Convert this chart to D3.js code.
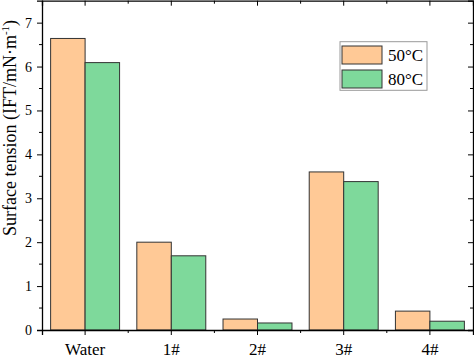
<!DOCTYPE html>
<html><head><meta charset="utf-8">
<script src="https://cdn.jsdelivr.net/npm/d3@7"></script>
<style>body{margin:0;background:#fff}svg{display:block}text{font-family:"Liberation Serif","Times New Roman",serif}</style>
</head><body><svg id="c" width="474" height="359"></svg>
<script>
const categories = ["Water","1#","2#","3#","4#"];
const seriesNames = ["50°C","80°C"];
const values50 = [6.64, 2.0, 0.25, 3.6, 0.43];
const values80 = [6.09, 1.69, 0.16, 3.38, 0.2];
const yTicks = [0,1,2,3,4,5,6,7];
const colors = ["#FFC996","#7ED99B"];

const svg = d3.select("#c");
const L = 42, R = 473, T = 0.7, B = 330;
const x = d3.scaleBand().domain(categories).range([L, R]).paddingInner(0.2).paddingOuter(0.1);
const xs = d3.scaleBand().domain(seriesNames).range([0, x.bandwidth()]);
const y = d3.scaleLinear().domain([0, 7.5]).range([B, T]);
const data = [values50, values80];

// bars
categories.forEach((c, i) => {
  seriesNames.forEach((s, j) => {
    svg.append("rect")
      .attr("x", x(c) + xs(s)).attr("y", y(data[j][i]))
      .attr("width", xs.bandwidth()).attr("height", y(0) - y(data[j][i]))
      .attr("fill", colors[j]).attr("stroke", "#333").attr("stroke-width", 1);
  });
});

const minorY = d3.range(0.5, 7.5, 1);
const bounds = categories.slice(1).map(c => x(c) - x.step() * x.paddingInner() / 2);

// left axis
const gl = svg.append("g").attr("transform", `translate(${L},0)`)
  .call(d3.axisLeft(y).tickValues(yTicks).tickFormat(d3.format("d")).tickSize(5).tickPadding(5));
gl.selectAll("text").attr("font-size", 14).attr("fill", "#000");
gl.selectAll(".m").data(minorY).enter().append("line")
  .attr("x1", -3).attr("x2", 0).attr("y1", d => y(d)).attr("y2", d => y(d)).attr("stroke", "#000");
// right axis ticks inward
const gr = svg.append("g").attr("transform", `translate(${R},0)`)
  .call(d3.axisRight(y).tickValues(yTicks).tickSize(-5).tickFormat(""));
gr.selectAll(".m").data(minorY).enter().append("line")
  .attr("x1", -3).attr("x2", 0).attr("y1", d => y(d)).attr("y2", d => y(d)).attr("stroke", "#000");
// bottom axis
const gb = svg.append("g").attr("transform", `translate(0,${B})`)
  .call(d3.axisBottom(x).tickSize(5).tickPadding(8));
gb.selectAll("text").attr("font-size", 17).attr("fill", "#000");
gb.selectAll(".m").data(bounds).enter().append("line")
  .attr("x1", d => d).attr("x2", d => d).attr("y1", 0).attr("y2", 3).attr("stroke", "#000");
// top axis ticks inward
const gt = svg.append("g").attr("transform", `translate(0,${T})`)
  .call(d3.axisTop(x).tickSize(-5).tickFormat(""));
gt.selectAll(".m").data(bounds).enter().append("line")
  .attr("x1", d => d).attr("x2", d => d).attr("y1", 0).attr("y2", 3).attr("stroke", "#000");
[gl, gr, gb, gt].forEach(g => {
  g.select(".domain").attr("stroke", "#000").attr("stroke-width", 1.3);
  g.selectAll(".tick line").attr("stroke", "#000");
});

// y title
svg.append("text").attr("transform", `translate(16,128) rotate(-90)`)
  .attr("text-anchor", "middle").attr("font-size", 18).attr("fill", "#000")
  .html('Surface tension (IFT/mN·m<tspan dy="-7" font-size="11">-1</tspan><tspan dy="7">)</tspan>');

// legend
const lg = svg.append("g");
lg.append("rect").attr("x", 340).attr("y", 41.7).attr("width", 87).attr("height", 48.6)
  .attr("fill", "#fff").attr("stroke", "#999").attr("stroke-width", 1);
seriesNames.forEach((s, j) => {
  lg.append("rect").attr("x", 342).attr("y", 46 + j * 24).attr("width", 40).attr("height", 18)
    .attr("fill", colors[j]).attr("stroke", "#333").attr("stroke-width", 1);
  lg.append("text").attr("x", 388).attr("y", 61 + j * 24).attr("font-size", 17).attr("fill", "#000").text(s);
});
</script></body></html>
